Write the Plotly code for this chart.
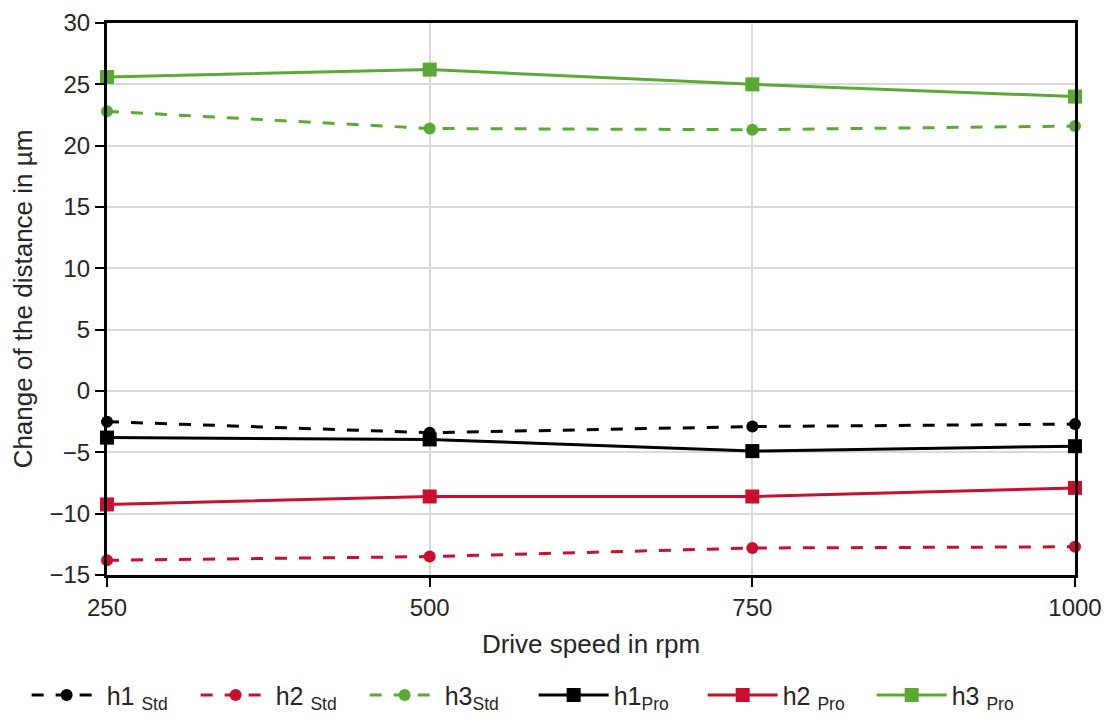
import plotly.graph_objects as go

speeds = [250, 500, 750, 1000]
h1_std = [-2.5, -3.4, -2.9, -2.7]
h2_std = [-13.8, -13.5, -12.8, -12.7]
h3_std = [22.8, 21.4, 21.3, 21.6]
h1_pro = [-3.8, -3.95, -4.9, -4.5]
h2_pro = [-9.25, -8.6, -8.6, -7.9]
h3_pro = [25.6, 26.2, 25.0, 24.0]

names = ["h1 <sub>Std</sub>", "h2 <sub>Std</sub>", "h3<sub>Std</sub>",
         "h1<sub>Pro</sub>", "h2 <sub>Pro</sub>", "h3 <sub>Pro</sub>"]

BLACK = "#000000"
RED = "#C8102E"
GREEN = "#5BA935"

series = [
    (h1_std, names[0], BLACK, "std"),
    (h2_std, names[1], RED, "std"),
    (h3_std, names[2], GREEN, "std"),
    (h1_pro, names[3], BLACK, "pro"),
    (h2_pro, names[4], RED, "pro"),
    (h3_pro, names[5], GREEN, "pro"),
]

fig = go.Figure()
for vals, name, col, kind in series:
    if kind == "std":
        fig.add_trace(go.Scatter(
            x=speeds, y=vals, name=name, mode="lines+markers",
            line=dict(color=col, width=3, dash="12px,12px"),
            marker=dict(symbol="circle", size=12, color=col),
            cliponaxis=False))
    else:
        fig.add_trace(go.Scatter(
            x=speeds, y=vals, name=name, mode="lines+markers",
            line=dict(color=col, width=3),
            marker=dict(symbol="square", size=14, color=col),
            cliponaxis=False))

font = "Liberation Sans, Arial, sans-serif"
fig.update_layout(
    width=1102, height=714,
    paper_bgcolor="white", plot_bgcolor="white",
    margin=dict(l=99, r=35, t=15, b=147, autoexpand=False),
    font=dict(family=font, size=24, color="#262626"),
    showlegend=True,
    legend=dict(orientation="h", x=-0.083, xanchor="left", y=-0.218, yanchor="middle",
                font=dict(size=25, color="#262626"), itemwidth=70, entrywidth=84,
                traceorder="normal"),
    xaxis=dict(
        range=[250, 1000], tickvals=speeds, ticktext=[str(s) for s in speeds],
        showgrid=True, gridcolor="#D9D9D9", gridwidth=1.5,
        showline=True, linecolor="black", linewidth=3, mirror=True,
        ticks="outside", ticklen=9, tickwidth=2, tickcolor="black",
        tickfont=dict(size=24), zeroline=False, automargin=False,
        ticklabeloverflow="allow",
        title=dict(text="Drive speed in rpm", font=dict(size=26), standoff=16),
    ),
    yaxis=dict(
        range=[-15, 30], tickvals=list(range(-15, 31, 5)),
        showgrid=True, gridcolor="#D9D9D9", gridwidth=1.5,
        showline=True, linecolor="black", linewidth=3, mirror=True,
        ticks="outside", ticklen=9, tickwidth=2, tickcolor="black",
        tickfont=dict(size=24), zeroline=False, automargin=False,
        ticklabeloverflow="allow",
        title=dict(text="Change of the distance in µm", font=dict(size=26), standoff=14),
    ),
)

fig.write_html("out.html")
